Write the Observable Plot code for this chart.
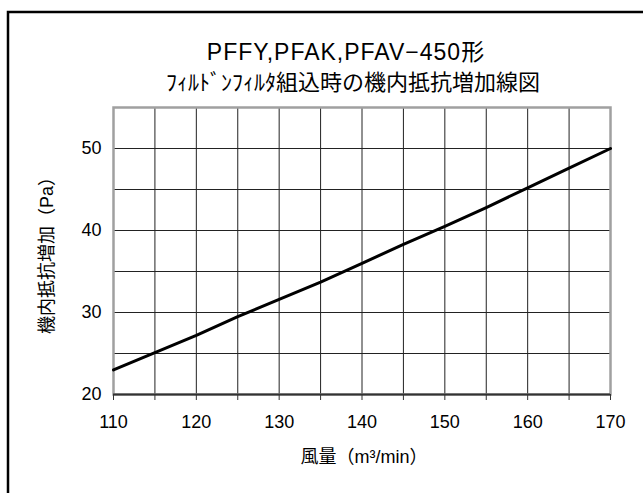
<!DOCTYPE html>
<html>
<head>
<meta charset="utf-8">
<script src="https://cdn.jsdelivr.net/npm/d3@7"></script>
<script src="https://cdn.jsdelivr.net/npm/@observablehq/plot@0.6"></script>
<style>
  html, body { margin: 0; padding: 0; background: #fff; }
  #chart svg { display: block; }
</style>
</head>
<body>
<div id="chart"></div>
<script>
// ---- data ----
const titleLine1 = "PFFY,PFAK,PFAV\u2212450形";
const titleLine2 = "ﾌｨﾙﾄﾞﾝﾌｨﾙﾀ組込時の機内抵抗増加線図";
const xLabel = "風量（m³/min）";
const yLabel = "機内抵抗増加（Pa）";

const flow = [110, 115, 120, 125, 130, 135, 140, 145, 150, 155, 160, 165, 170];
const resistance = [23.0, 25.1, 27.2, 29.5, 31.6, 33.7, 36.0, 38.3, 40.5, 42.8, 45.2, 47.6, 50.0];

const xGridValues = [110, 115, 120, 125, 130, 135, 140, 145, 150, 155, 160, 165, 170];
const yGridValues = [20, 25, 30, 35, 40, 45, 50, 55];
const xTickLabels = [110, 120, 130, 140, 150, 160, 170];
const yTickLabels = [20, 30, 40, 50];

const data = flow.map((f, i) => ({flow: f, resistance: resistance[i]}));

const font = "'Liberation Sans', 'Noto Sans CJK JP', sans-serif";

const chart = Plot.plot({
  width: 643,
  height: 493,
  marginLeft: 113,
  marginRight: 33,
  marginTop: 107,
  marginBottom: 99,
  style: {fontFamily: font, background: "#fff", color: "#000"},
  x: {domain: [110, 170], label: null},
  y: {domain: [20, 55], label: null},
  marks: [
    Plot.gridX(xGridValues, {stroke: "#222", strokeOpacity: 1, strokeWidth: 1}),
    Plot.gridY(yGridValues, {stroke: "#222", strokeOpacity: 1, strokeWidth: 1}),
    Plot.frame({stroke: "#a0a0a0", strokeWidth: 2.5}),
    Plot.ruleY([20], {stroke: "#333", strokeWidth: 2}),
    Plot.axisX({ticks: xGridValues, tickSize: 6, text: null, stroke: "#333"}),
    Plot.axisX({ticks: xTickLabels, tickSize: 0, tickPadding: 21, fontSize: 18, tickFormat: d => String(d)}),
    Plot.axisY({ticks: yTickLabels, tickSize: 0, tickPadding: 12, fontSize: 18, tickFormat: d => String(d)}),
    Plot.line(data, {x: "flow", y: "resistance", stroke: "#000", strokeWidth: 3}),
    Plot.text([titleLine1], {frameAnchor: "top", dy: -64, dx: -16, fontSize: 23, text: d => d, fill: "#000"}),
    Plot.text([titleLine2], {frameAnchor: "top", dy: -33, dx: -9, fontSize: 22, text: d => d, fill: "#000"}),
    Plot.text([xLabel], {frameAnchor: "bottom", dy: 68, dx: 2, fontSize: 18, text: d => d, fill: "#000"}),
    Plot.text([yLabel], {frameAnchor: "left", dx: -66, rotate: -90, textAnchor: "middle", fontSize: 18, text: d => d, fill: "#000"})
  ]
});

// slightly wider letter spacing on the first title line (as in the reference font)
d3.select(chart).selectAll("text")
  .filter(function() { return this.textContent === titleLine1; })
  .attr("letter-spacing", "1px");

// chart-area border (Excel-style outer box, partly outside the view)
d3.select(chart).insert("rect", ":first-child")
  .attr("x", 8).attr("y", 12)
  .attr("width", 700).attr("height", 600)
  .attr("fill", "none").attr("stroke", "#000").attr("stroke-width", 2.5);

document.getElementById("chart").appendChild(chart);
</script>
</body>
</html>
